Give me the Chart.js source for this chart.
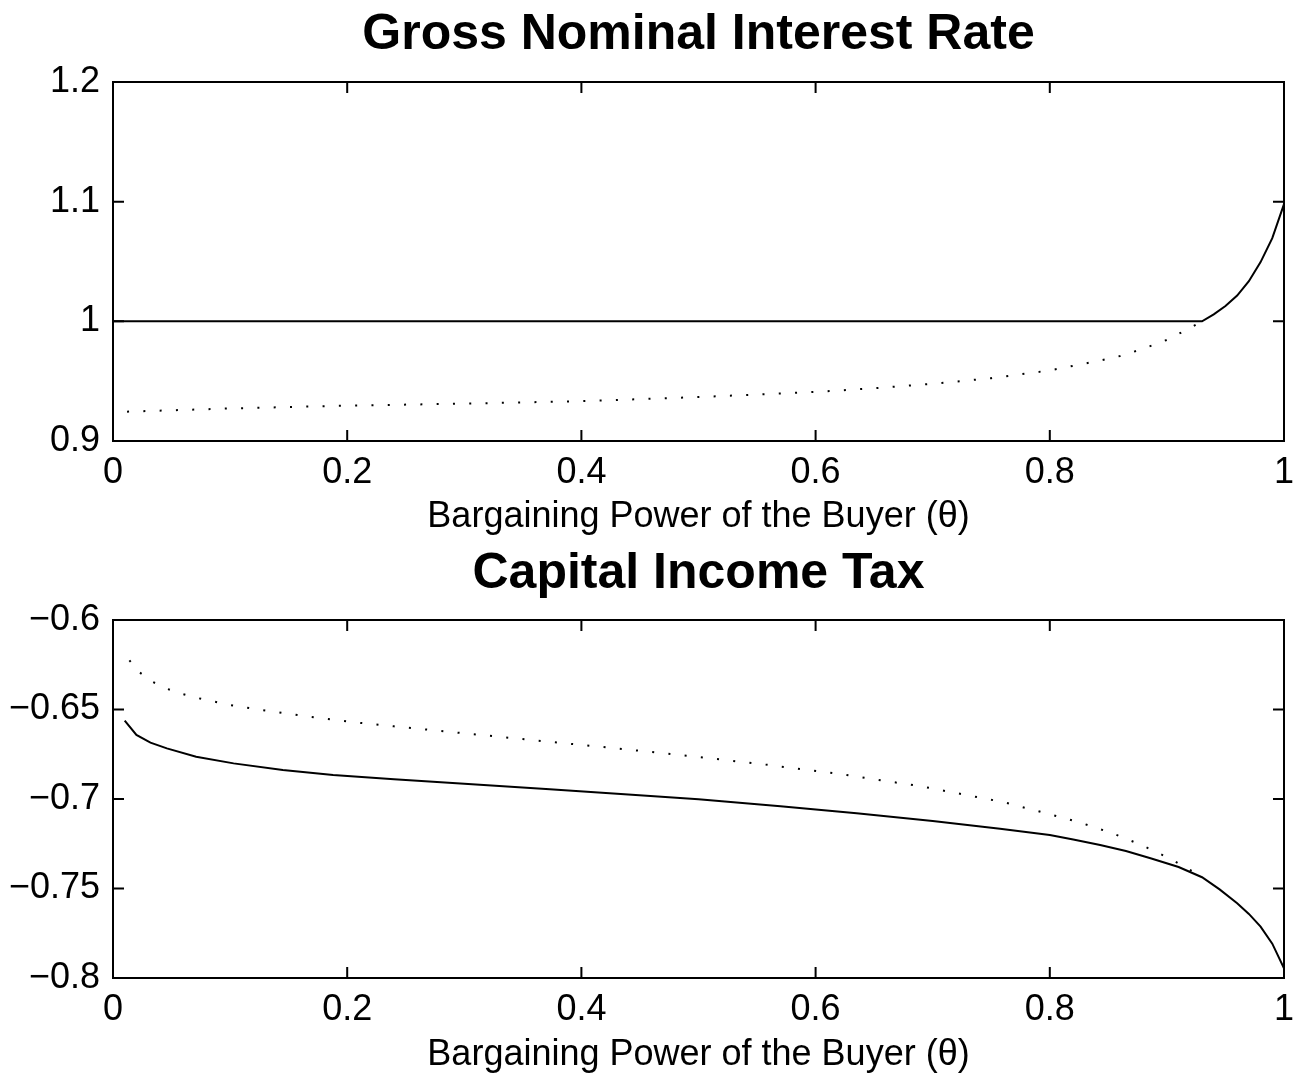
<!DOCTYPE html>
<html>
<head>
<meta charset="utf-8">
<script src="https://cdn.jsdelivr.net/npm/chart.js@4/dist/chart.umd.min.js"></script>
<style>
  body { margin: 0; background: #fff; }
  canvas { display: block; }
</style>
</head>
<body>
<canvas id="rateChart" width="1300" height="538"></canvas>
<canvas id="taxChart" width="1300" height="538"></canvas>
<script>
'use strict';
// ---- data ----
const xTickValues = [0, 0.2, 0.4, 0.6, 0.8, 1];
const xTickLabels = ['0', '0.2', '0.4', '0.6', '0.8', '1'];

const rateTickValues = [0.9, 1, 1.1, 1.2];
const rateTickLabels = ['0.9', '1', '1.1', '1.2'];
const taxTickValues = [-0.8, -0.75, -0.7, -0.65, -0.6];
const taxTickLabels = ['\u22120.8', '\u22120.75', '\u22120.7', '\u22120.65', '\u22120.6'];

// gross nominal interest rate
const rateSolidTheta = [0, 0.93, 0.94, 0.95, 0.96, 0.97, 0.98, 0.99, 1.0];
const rateSolid = [1, 1, 1.0058, 1.0128, 1.0215, 1.0335, 1.0495, 1.0695, 1.098];
const rateDottedTheta = [0.012, 0.1, 0.2, 0.3, 0.4, 0.5, 0.6, 0.65, 0.7, 0.75, 0.8, 0.84, 0.86, 0.88, 0.9, 0.915, 0.93];
const rateDotted = [0.9245, 0.9272, 0.9296, 0.9312, 0.9333, 0.9367, 0.941, 0.9441, 0.9478, 0.9525, 0.959, 0.9666, 0.971, 0.9772, 0.9845, 0.992, 1.0];

// capital income tax
const taxSolidTheta = [0.01, 0.02, 0.032, 0.046, 0.071, 0.103, 0.145, 0.188, 0.24, 0.3, 0.373, 0.44, 0.5, 0.57, 0.635, 0.7, 0.7575, 0.8, 0.82, 0.843, 0.865, 0.886, 0.91, 0.93, 0.945, 0.96, 0.97, 0.98, 0.99, 1.0];
const taxSolid = [-0.6562, -0.6642, -0.6685, -0.6717, -0.6764, -0.6801, -0.6838, -0.6866, -0.689, -0.6915, -0.6946, -0.6975, -0.7002, -0.704, -0.708, -0.7123, -0.7166, -0.7201, -0.7226, -0.7257, -0.7291, -0.7331, -0.738, -0.7437, -0.7505, -0.7582, -0.7642, -0.7713, -0.7808, -0.7946];
const taxDottedTheta = [0.014, 0.023, 0.034, 0.046, 0.059, 0.073, 0.1, 0.127, 0.168, 0.21, 0.24, 0.3, 0.36, 0.43, 0.5, 0.56, 0.62, 0.69, 0.76, 0.8, 0.825, 0.852, 0.877, 0.902, 0.915, 0.93];
const taxDotted = [-0.6225, -0.6294, -0.6346, -0.6384, -0.6413, -0.6437, -0.6475, -0.6503, -0.654, -0.6574, -0.6594, -0.6633, -0.6672, -0.6717, -0.6765, -0.681, -0.686, -0.6929, -0.7017, -0.7085, -0.713, -0.7188, -0.7253, -0.7331, -0.7378, -0.7437];

////////////////////////////////////////////////////////

const FONT = "'Liberation Sans', Arial, Helvetica, sans-serif";

function pairs(xs, ys) {
  return xs.map((x, i) => ({ x: x, y: ys[i] }));
}

// matlab style box with inward ticks on all four sides
const boxPlugin = {
  id: 'box',
  afterDraw(chart) {
    const ctx = chart.ctx;
    const a = chart.chartArea;
    const len = 11;
    ctx.save();
    ctx.strokeStyle = '#000';
    ctx.lineWidth = 2;
    ctx.strokeRect(a.left, a.top, a.right - a.left, a.bottom - a.top);
    ctx.beginPath();
    chart.scales.x.ticks.forEach(t => {
      const px = chart.scales.x.getPixelForValue(t.value);
      ctx.moveTo(px, a.bottom); ctx.lineTo(px, a.bottom - len);
      ctx.moveTo(px, a.top); ctx.lineTo(px, a.top + len);
    });
    chart.scales.y.ticks.forEach(t => {
      const py = chart.scales.y.getPixelForValue(t.value);
      ctx.moveTo(a.left, py); ctx.lineTo(a.left + len, py);
      ctx.moveTo(a.right, py); ctx.lineTo(a.right - len, py);
    });
    ctx.stroke();
    ctx.restore();
  }
};

function makeChart(id, title, solid, dotted, yTicks, yLabels, xAxisHeight, titleTop) {
  const ctx = document.getElementById(id).getContext('2d');
  return new Chart(ctx, {
    type: 'line',
    data: {
      datasets: [
        {
          data: solid,
          borderColor: '#000',
          borderWidth: 2,
          pointRadius: 0,
          tension: 0
        },
        {
          data: dotted,
          borderColor: '#000',
          borderWidth: 2,
          borderDash: [2, 14.3],
          pointRadius: 0,
          tension: 0
        }
      ]
    },
    options: {
      responsive: false,
      animation: false,
      devicePixelRatio: 1,
      layout: { padding: { left: 0, right: 16, top: 0, bottom: 0 } },
      plugins: {
        legend: { display: false },
        tooltip: { enabled: false },
        title: {
          display: true,
          fullSize: false,
          text: title,
          color: '#000',
          font: { family: FONT, size: 50, weight: 'bold' },
          padding: { top: titleTop, bottom: 22 - titleTop }
        }
      },
      scales: {
        x: {
          type: 'linear',
          min: 0,
          max: 1,
          grid: { display: false, drawTicks: false },
          border: { display: false },
          afterBuildTicks: s => { s.ticks = xTickValues.map(v => ({ value: v })); },
          afterFit: s => { s.height = xAxisHeight; s.paddingLeft = 0; s.paddingRight = 0; },
          ticks: {
            color: '#000',
            padding: 10,
            maxRotation: 0,
            font: { family: FONT, size: 36 },
            callback: (v, i) => xTickLabels[i]
          },
          title: {
            display: true,
            text: 'Bargaining Power of the Buyer (\u03b8)',
            color: '#000',
            font: { family: FONT, size: 36 },
            padding: { top: 0, bottom: -1 }
          }
        },
        y: {
          type: 'linear',
          min: yTicks[0],
          max: yTicks[yTicks.length - 1],
          grid: { display: false, drawTicks: false },
          border: { display: false },
          afterBuildTicks: s => { s.ticks = yTicks.map(v => ({ value: v })); },
          afterFit: s => { s.width = 113; },
          ticks: {
            color: '#000',
            padding: 13,
            font: { family: FONT, size: 36 },
            callback: (v, i) => yLabels[i]
          }
        }
      }
    },
    plugins: [boxPlugin]
  });
}

makeChart('rateChart', 'Gross Nominal Interest Rate',
  pairs(rateSolidTheta, rateSolid), pairs(rateDottedTheta, rateDotted),
  rateTickValues, rateTickLabels, 97, 5);

makeChart('taxChart', 'Capital Income Tax',
  pairs(taxSolidTheta, taxSolid), pairs(taxDottedTheta, taxDotted),
  taxTickValues, taxTickLabels, 98, 6);
</script>
</body>
</html>
